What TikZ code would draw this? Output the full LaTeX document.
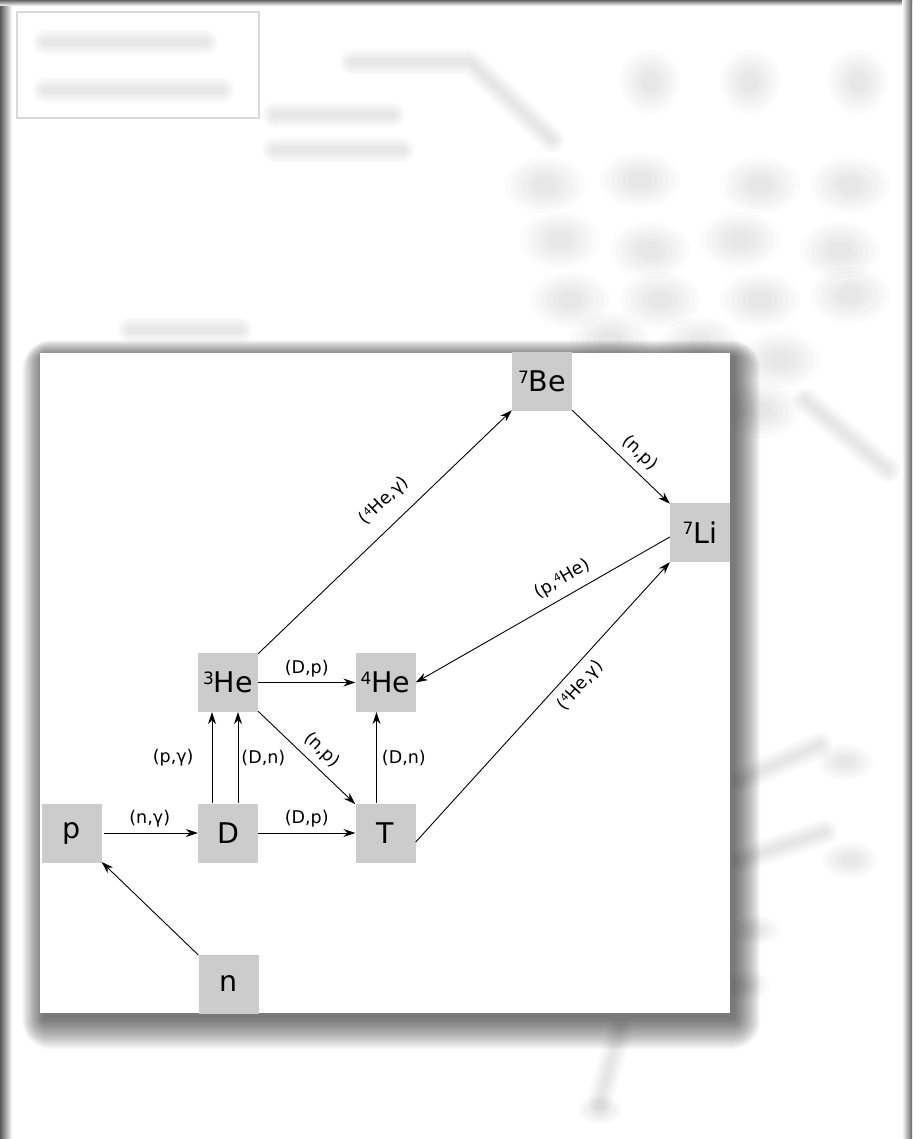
\documentclass[tikz,border=0pt]{standalone}
\usepackage{fontspec}
\setmainfont{DejaVu Sans}
\usetikzlibrary{arrows.meta}
\newcommand\supA[1]{\raisebox{8.6pt}{\fontsize{17}{17}\selectfont #1}}
\newcommand\supB[1]{\raisebox{5.2pt}{\fontsize{10.5}{10.5}\selectfont #1}}
\newcommand\softline[1]{%
  \foreach \w in {26,22,18,14,10,6}{%
    \draw[line width=\w pt, line cap=round, line join=round, black, opacity=0.016] #1;}}
\newcommand\blob[4]{%
  \foreach \k in {1.0,0.86,0.72,0.58,0.44,0.3}{%
    \fill[black, opacity=0.015] (#1,#2) ellipse ({#3*\k} and {#4*\k});}}
\tikzset{
  nuc/.style={fill=black!20, minimum width=60pt, minimum height=59pt, inner sep=0pt,
    font=\fontsize{28.5}{30}\selectfont},
  rx/.style={font=\fontsize{17.5}{19}\selectfont, inner sep=2pt},
  arr/.style={draw=black, line width=0.9pt,
    -{Stealth[length=12pt,width=8pt,inset=4pt]}},
}
\begin{document}
\begin{tikzpicture}[x=1pt,y=-1pt]
\useasboundingbox (0,0) rectangle (912,1139);
\fill[white] (0,0) rectangle (912,1139);
% blurred background
\draw[black!15, line width=1.5pt] (17,12) rectangle (259,118);
\softline{(45,42) -- (205,42)}
\softline{(45,90) -- (222,90)}
\softline{(275,115) -- (392,115)}
\softline{(275,150) -- (402,150)}
\softline{(352,62) -- (470,62) -- (552,140)}
\foreach \bx in {650,750,858}{\blob{\bx}{82}{30}{32}}
\foreach \bx/\by in {545/185,640/180,760/185,850/185,560/240,650/250,740/240,840/250,
  570/300,660/300,760/300,850/295,610/340,700/345,780/360,760/410}{\blob{\bx}{\by}{40}{28}}
\softline{(805,400) -- (888,470)}
\softline{(130,330) -- (240,330)}
\softline{(740,780) -- (820,745)}
\blob{845}{762}{28}{18}
\softline{(740,860) -- (825,832)}
\blob{850}{860}{28}{18}
\blob{755}{930}{25}{15}
\blob{745}{985}{25}{15}
\softline{(620,1030) -- (600,1100)}
\blob{600}{1110}{22}{14}
% window edges
\shade[left color=black!65, right color=white] (0,0) rectangle (12,1139);
\shade[top color=black!60, bottom color=white] (0,0) rectangle (912,6);
\shade[left color=white, right color=black!60] (902,0) rectangle (912,1139);
% panel shadow and panel
\foreach \i in {1,...,24}{%
  \fill[black, opacity=0.026, rounded corners={\i*1.2pt}]
    (44-\i*0.9, 357-\i*0.7) rectangle (734+\i*1.1, 1018+\i*1.3);}
\fill[white] (40,353) rectangle (730,1013);
% nodes
\node[nuc] (p)   at (71.5,833)  {p};
\node[nuc] (D)   at (228,833)   {D};
\node[nuc] (T)   at (385.5,833) {T};
\node[nuc] (He3) at (228,682.5) {\supA{3}He};
\node[nuc] (He4) at (385.5,682.5) {\supA{4}He};
\node[nuc] (Be7) at (542,381.5) {\supA{7}Be};
\node[nuc] (Li7) at (700,532.5) {\supA{7}Li};
\node[nuc] (n)   at (228.5,984) {n};
% connectors
\draw[arr] (n) -- (p);
\draw[arr, shorten <=2pt] (p) -- node[rx, above=3pt] {(n,γ)} (D);
\draw[arr] (D) -- node[rx, above=3pt] {(D,p)} (T);
\draw[arr] ([xshift=-16pt]D.north) -- node[rx, left=16pt] {(p,γ)} ([xshift=-16pt]He3.south);
\draw[arr] ([xshift=10pt]D.north) -- node[rx, right=1pt] {(D,n)} ([xshift=10pt]He3.south);
\draw[arr] ([xshift=-9pt]T.north) -- node[rx, right=3pt] {(D,n)} ([xshift=-9pt]He4.south);
\draw[arr] (He3) -- node[rx, above=3pt] {(D,p)} (He4);
\draw[arr] (He3) -- node[rx, sloped, above=5pt, pos=0.54] {(n,p)} (T);
\draw[arr] (He3) -- node[rx, sloped, above=12pt, pos=0.56] {(\supB{4}He,γ)} (Be7);
\draw[arr] (Be7) -- node[rx, sloped, above=5pt, pos=0.58] {(n,p)} (Li7);
\draw[arr] ([yshift=-4.5pt]Li7.west) -- node[rx, sloped, above=6pt, pos=0.39] {(p,\supB{4}He)} (He4.east);
\draw[arr] ([yshift=-9pt]T.east) -- node[rx, sloped, below=6pt, pos=0.6] {(\supB{4}He,γ)} (Li7.south west);
\end{tikzpicture}
\end{document}
